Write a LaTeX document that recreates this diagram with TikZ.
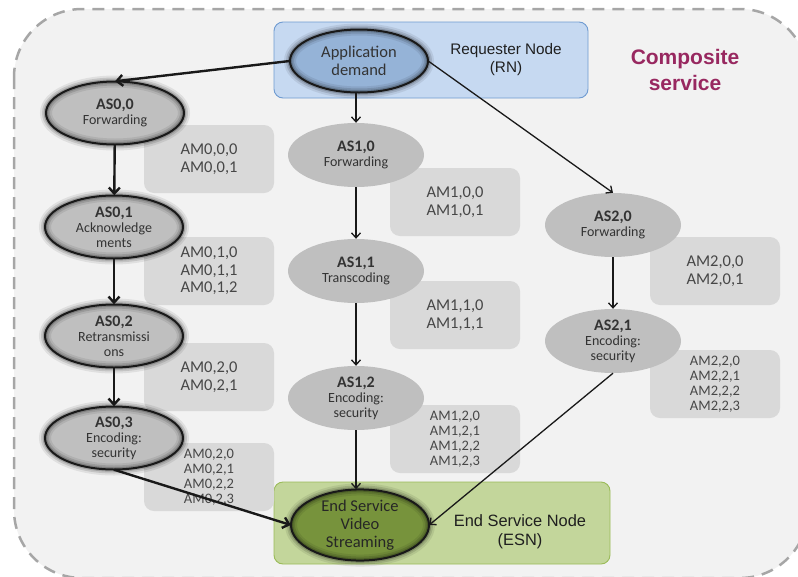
\documentclass[tikz,border=0pt]{standalone}
\usepackage{fontspec}
\setmainfont{Carlito}
\newfontfamily\arialfont{Liberation Sans}
\usetikzlibrary{shapes.geometric,arrows.meta}

\definecolor{regionfill}{HTML}{F2F2F2}
\definecolor{regionedge}{HTML}{A6A6A6}
\definecolor{amfill}{HTML}{D9D9D9}
\definecolor{asfill}{HTML}{BFBFBF}
\definecolor{rnfill}{HTML}{C6D9F1}
\definecolor{rnedge}{HTML}{6F9BD1}
\definecolor{appfill}{HTML}{95B3D7}
\definecolor{esnfill}{HTML}{C3D69B}
\definecolor{esnedge}{HTML}{9BBB59}
\definecolor{esfill}{HTML}{77933C}
\definecolor{csred}{RGB}{152,40,96}

\newcommand\astitle[1]{{\bfseries\fontsize{16}{15}\selectfont #1}}

\tikzset{
  glowell/.style={ellipse, inner sep=0pt, minimum width=138pt, minimum height=63pt,
    fill=#1, align=center,
    postaction={draw=black, draw opacity=0.08, line width=12pt},
    postaction={draw=black, draw opacity=0.12, line width=8pt},
    postaction={draw=black, draw opacity=0.18, line width=4.5pt},
    postaction={draw=black!90, line width=2pt}},
  plainell/.style={ellipse, inner sep=0pt, minimum width=136pt, minimum height=64pt,
    fill=asfill, align=center},
  astext/.style={font=\fontsize{14}{15}\selectfont, text=black!80},
  ambox/.style={rounded corners=10pt, fill=amfill, minimum width=130pt,
    minimum height=68pt, inner sep=0pt, align=center, text=black!72,
    font=\fontsize{16.5}{17.5}\selectfont},
  amsmall/.style={ambox, font=\fontsize{14.5}{15}\selectfont},
  hostbox/.style={rounded corners=9pt, line width=0.9pt, inner sep=0pt},
  thickarrow/.style={-{Straight Barb[length=6pt,width=11pt]}, line width=2.4pt, black!90},
  thinarrow/.style={-{Straight Barb[length=5pt,width=9pt]}, line width=1.3pt, black!90},
}

\begin{document}
\begin{tikzpicture}[x=1pt, y=-1pt]
  \useasboundingbox (0,0) rectangle (798,576);
  \clip (0,0) rectangle (798,576);

  % composite service region
  \draw[regionedge, line width=2.5pt, dash pattern=on 12pt off 8pt,
        fill=regionfill, rounded corners=68pt] (14,9) rectangle (808,578);

  % requester and end service host boxes
  \node[hostbox, fill=rnfill, draw=rnedge, minimum width=314pt, minimum height=76pt]
    (rn) at (431,60) {};
  \node[hostbox, fill=esnfill, draw=esnedge, minimum width=336pt, minimum height=82pt]
    (esn) at (442,523) {};

  \node[font=\arialfont\fontsize{15.3}{18}\selectfont, text=black!88, align=center]
    (rnlabel) at (506,60) {Requester Node\\(RN)};
  \node[font=\arialfont\fontsize{16.4}{19}\selectfont, text=black!88, align=center]
    (esnlabel) at (520,532) {End Service Node\\(ESN)};
  \node[font=\arialfont\bfseries\fontsize{21}{26}\selectfont, text=csred, align=center]
    (cs) at (685,70) {Composite\\service};

  % abstract method boxes
  \node[ambox] (am00) at (209,159) {AM0,0,0\\AM0,0,1};
  \node[ambox] (am01) at (209,271) {AM0,1,0\\AM0,1,1\\AM0,1,2};
  \node[ambox] (am02) at (209,377) {AM0,2,0\\AM0,2,1};
  \node[amsmall] (am03) at (209,477) {AM0,2,0\\AM0,2,1\\AM0,2,2\\AM0,2,3};
  \node[ambox] (am10) at (455,202) {AM1,0,0\\AM1,0,1};
  \node[ambox] (am11) at (455,315) {AM1,1,0\\AM1,1,1};
  \node[amsmall] (am12) at (455,439) {AM1,2,0\\AM1,2,1\\AM1,2,2\\AM1,2,3};
  \node[ambox] (am20) at (715,271) {AM2,0,0\\AM2,0,1};
  \node[amsmall] (am22) at (715,384) {AM2,2,0\\AM2,2,1\\AM2,2,2\\AM2,2,3};

  % services
  \node[glowell=appfill, font=\fontsize{16.5}{18}\selectfont, text=black!80]
    (app) at (359,61) {Application\\demand};

  \node[glowell=asfill, astext] (as00) at (115,113) {\astitle{AS0,0}\\Forwarding};
  \node[glowell=asfill, astext] (as01) at (114,227) {\astitle{AS0,1}\\Acknowledge\\ments};
  \node[glowell=asfill, astext] (as02) at (114,336) {\astitle{AS0,2}\\Retransmissi\\ons};
  \node[glowell=asfill, astext] (as03) at (114,438) {\astitle{AS0,3}\\Encoding:\\security};

  \node[plainell, astext] (as10) at (356,155) {\astitle{AS1,0}\\Forwarding};
  \node[plainell, astext] (as11) at (356,271) {\astitle{AS1,1}\\Transcoding};
  \node[plainell, astext] (as12) at (356,398) {\astitle{AS1,2}\\Encoding:\\security};

  \node[plainell, astext] (as20) at (613,225) {\astitle{AS2,0}\\Forwarding};
  \node[plainell, astext] (as21) at (613,341) {\astitle{AS2,1}\\Encoding:\\security};

  \node[glowell=esfill, font=\fontsize{16.5}{18}\selectfont, text=black!85]
    (es) at (360,525) {End Service\\Video\\Streaming};

  % connectors
  \draw[thickarrow] (app.west) -- (as00.north);
  \draw[thinarrow] (app.south -| as10) -- (as10.north);
  \draw[thinarrow] (app.east) -- (as20.north);

  \draw[thickarrow] (as00) -- (as01);
  \draw[thickarrow] (as01) -- (as02);
  \draw[thickarrow] (as02) -- (as03);
  \draw[thickarrow] (as03.south) -- (es.west);

  \draw[thinarrow] (as10) -- (as11);
  \draw[thinarrow] (as11) -- (as12);
  \draw[thinarrow] (as12.south) -- (es.north -| as12);

  \draw[thinarrow] (as20) -- (as21);
  \draw[thinarrow] (as21.south) -- (es.east);
\end{tikzpicture}
\end{document}
